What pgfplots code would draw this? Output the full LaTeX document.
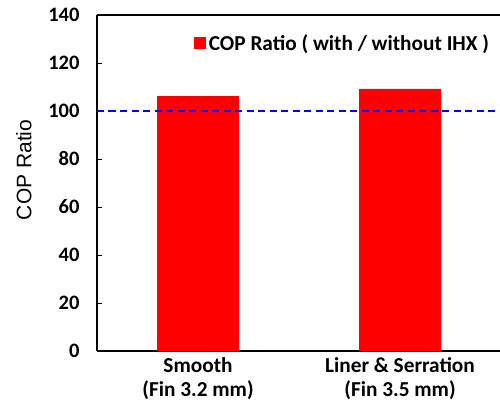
\documentclass[border=0pt]{standalone}
\usepackage{pgfplots}
\pgfplotsset{compat=1.18}
\usepackage{fontspec}
\setmainfont{Carlito}
\newfontfamily\arial{Liberation Sans}
\begin{document}
\begin{tikzpicture}
\begin{axis}[
  name=ax,
  at={(0,0)}, anchor=south west,
  scale only axis,
  width=404pt, height=336pt,
  xmin=-0.5, xmax=1.5,
  ymin=0, ymax=140,
  ytick={0,20,...,140},
  xtick={0,1},
  xticklabels={{Smooth\\(Fin 3.2 mm)},{Liner \& Serration\\(Fin 3.5 mm)}},
  axis x line*=bottom,
  axis y line*=left,
  axis line style={line width=1.5pt, -},
  x axis line style={-},
  y axis line style={-},
  tick align=inside,
  major tick length=5pt,
  every tick/.style={black, line width=0.6pt},
  xtick style={draw=none},
  /pgf/number format/assume math mode=true,
  yticklabel style={font=\fontsize{20.5}{24}\selectfont\bfseries, xshift=-14pt},
  xticklabel style={font=\fontsize{21.3}{24}\selectfont\bfseries, align=center, yshift=-3pt},
  ylabel={COP Ratio},
  ylabel style={font=\fontsize{21}{24}\selectfont\arial, at={(axis description cs:-0.181,0.539)}, anchor=center},
  legend style={draw=none, fill=none, at={(axis description cs:0.241,0.917)}, anchor=west,
    font=\fontsize{21.3}{24}\selectfont\bfseries, inner sep=0pt, outer sep=0pt,
    nodes={inner sep=2.5pt}},
  legend cell align=left,
  clip=false,
]
\addplot[ybar, bar width=82pt, fill=red, draw=none,
  legend image code/.code={\fill[red] (-3pt,-6pt) rectangle (9pt,6pt);}]
  coordinates {(0,106.2) (1,109.2)};
\addlegendentry{COP Ratio ( with / without IHX )}
\addplot[blue, line width=1.6pt, dash pattern=on 7pt off 4.5pt, forget plot]
  coordinates {(-0.5,100) (1.5,100)};
\draw[line width=1.5pt] (rel axis cs:0,1) -- (rel axis cs:1,1);
\end{axis}
\pgfresetboundingbox
\path (-97pt,-60pt) rectangle (403pt,351pt);
\end{tikzpicture}
\end{document}
